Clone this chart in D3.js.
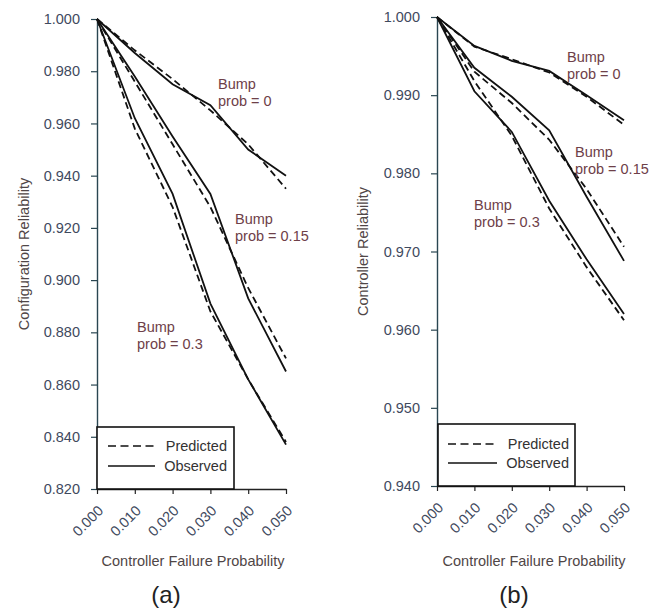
<!DOCTYPE html>
<html>
<head>
<meta charset="utf-8">
<script src="https://cdn.jsdelivr.net/npm/d3@7"></script>
<style>
  html, body { margin: 0; padding: 0; background: #ffffff; }
  svg { display: block; }
  text { font-family: "Liberation Sans", Arial, sans-serif; }
</style>
</head>
<body>
<svg id="chart" width="664" height="614"></svg>
<script>
// ---------------- DATA ----------------
const xValues = [0.00, 0.01, 0.02, 0.03, 0.04, 0.05];
const xTickLabels = ["0.000", "0.010", "0.020", "0.030", "0.040", "0.050"];

// Panel (a): Configuration Reliability
const aYTicks = [0.82, 0.84, 0.86, 0.88, 0.90, 0.92, 0.94, 0.96, 0.98, 1.00];
const aObs0    = [1.000, 0.987, 0.975, 0.967, 0.950, 0.940];
const aPred0   = [1.000, 0.988, 0.977, 0.965, 0.952, 0.935];
const aObs15   = [1.000, 0.978, 0.955, 0.933, 0.893, 0.865];
const aPred15  = [1.000, 0.976, 0.952, 0.928, 0.897, 0.870];
const aObs3    = [1.000, 0.962, 0.933, 0.891, 0.862, 0.837];
const aPred3   = [1.000, 0.958, 0.928, 0.888, 0.862, 0.838];

// Panel (b): Controller Reliability
const bYTicks = [0.94, 0.95, 0.96, 0.97, 0.98, 0.99, 1.00];
const bObs0    = [1.000, 0.9963, 0.9944, 0.9931, 0.9900, 0.9868];
const bPred0   = [1.000, 0.9962, 0.9946, 0.9929, 0.9898, 0.9862];
const bObs15   = [1.000, 0.9935, 0.9898, 0.9855, 0.9770, 0.9688];
const bPred15  = [1.000, 0.9930, 0.9890, 0.9843, 0.9780, 0.9706];
const bObs3    = [1.000, 0.9905, 0.9853, 0.9765, 0.9690, 0.9620];
const bPred3   = [1.000, 0.9918, 0.9848, 0.9755, 0.9680, 0.9612];

const legendLabels = ["Predicted", "Observed"];
const yTitles = ["Configuration Reliability", "Controller Reliability"];
const xTitle = "Controller Failure Probability";
const panelLabels = ["(a)", "(b)"];
const bumpLabels = ["prob = 0", "prob = 0.15", "prob = 0.3"];

// ---------------- DRAW ----------------
const svg = d3.select("#chart");
const FS = 14.5;
const axisColor = "#2a4652";
const tickColor = "#3f4a5e";
const titleColor = "#4f4646";
const annColor = "#6e4048";

const panels = [
  {
    x0: 97, x1: 286, yTop: 19, yBot: 489, yDomain: [0.82, 1.00], yTicks: aYTicks,
    series: [[aObs0, aPred0], [aObs15, aPred15], [aObs3, aPred3]],
    ann: [[218, 89], [235, 224], [137, 332]],
    legend: { x: 97, y: 427, w: 137, h: 62, lineX0: 108, lineX1: 155, textEnd: 227, y1: 446, y2: 466 },
    yTitleX: 29, xTitleX: 193, panelLabelX: 166, yTitle: yTitles[0], label: panelLabels[0]
  },
  {
    x0: 437, x1: 624, yTop: 17, yBot: 486, yDomain: [0.94, 1.00], yTicks: bYTicks,
    series: [[bObs0, bPred0], [bObs15, bPred15], [bObs3, bPred3]],
    ann: [[567, 62], [575, 157], [474, 210]],
    legend: { x: 438, y: 424, w: 137, h: 62, lineX0: 448, lineX1: 497, textEnd: 569, y1: 444, y2: 463 },
    yTitleX: 368, xTitleX: 534, panelLabelX: 514, yTitle: yTitles[1], label: panelLabels[1]
  }
];

panels.forEach(p => {
  const x = d3.scaleLinear().domain([0, 0.05]).range([p.x0, p.x1]);
  const y = d3.scaleLinear().domain(p.yDomain).range([p.yBot, p.yTop]);

  // Y axis
  const yAxis = d3.axisLeft(y).tickValues(p.yTicks).tickFormat(d3.format(".3f"))
    .tickSize(6).tickSizeOuter(0).tickPadding(11);
  const gy = svg.append("g").attr("transform", `translate(${p.x0},0)`).call(yAxis);
  gy.select(".domain").attr("stroke", axisColor).attr("stroke-width", 1.4);
  gy.selectAll(".tick line").attr("stroke", axisColor).attr("stroke-width", 1.2);
  gy.selectAll(".tick text").attr("fill", tickColor).style("font-size", FS + "px")
    .style("font-family", "'Liberation Sans', Arial, sans-serif");

  // X axis
  const xAxis = d3.axisBottom(x).tickValues(xValues).tickFormat((d, i) => xTickLabels[i])
    .tickSize(5).tickSizeOuter(0);
  const gx = svg.append("g").attr("transform", `translate(0,${p.yBot})`).call(xAxis);
  gx.select(".domain").attr("stroke", "#222").attr("stroke-width", 1.4);
  gx.selectAll(".tick line").attr("stroke", "#222").attr("stroke-width", 1.2);
  gx.selectAll(".tick text")
    .attr("fill", tickColor).style("font-size", FS + "px")
    .style("font-family", "'Liberation Sans', Arial, sans-serif")
    .attr("text-anchor", "end")
    .attr("y", 0).attr("dy", "0.35em")
    .attr("transform", "translate(3,19) rotate(-45)");

  // Lines
  const line = d3.line().x((d, i) => x(xValues[i])).y(d => y(d));
  p.series.forEach(([obs, pred]) => {
    svg.append("path").datum(pred).attr("d", line)
      .attr("fill", "none").attr("stroke", "#111").attr("stroke-width", 1.8)
      .attr("stroke-dasharray", "7,4");
    svg.append("path").datum(obs).attr("d", line)
      .attr("fill", "none").attr("stroke", "#111").attr("stroke-width", 1.8);
  });

  // Annotations
  p.ann.forEach((a, i) => {
    const t = svg.append("text").attr("x", a[0]).attr("y", a[1])
      .attr("fill", annColor).style("font-size", FS + "px");
    t.append("tspan").attr("x", a[0]).text("Bump");
    t.append("tspan").attr("x", a[0]).attr("dy", 16.5).text(bumpLabels[i]);
  });

  // Legend
  const L = p.legend;
  svg.append("rect").attr("x", L.x).attr("y", L.y).attr("width", L.w).attr("height", L.h)
    .attr("fill", "#ffffff").attr("stroke", "#111").attr("stroke-width", 1.6);
  svg.append("line").attr("x1", L.lineX0).attr("x2", L.lineX1).attr("y1", L.y1).attr("y2", L.y1)
    .attr("stroke", "#111").attr("stroke-width", 1.5).attr("stroke-dasharray", "8,4.5");
  svg.append("line").attr("x1", L.lineX0).attr("x2", L.lineX1).attr("y1", L.y2).attr("y2", L.y2)
    .attr("stroke", "#111").attr("stroke-width", 1.5);
  svg.append("text").attr("x", L.textEnd).attr("y", L.y1).attr("dy", "0.35em")
    .attr("text-anchor", "end").attr("fill", "#333").style("font-size", FS + "px").text(legendLabels[0]);
  svg.append("text").attr("x", L.textEnd).attr("y", L.y2).attr("dy", "0.35em")
    .attr("text-anchor", "end").attr("fill", "#333").style("font-size", FS + "px").text(legendLabels[1]);

  // Axis titles
  svg.append("text").attr("transform", `translate(${p.yTitleX},${(p.yTop + p.yBot) / 2}) rotate(-90)`)
    .attr("text-anchor", "middle").attr("fill", titleColor).style("font-size", FS + "px").text(p.yTitle);
  svg.append("text").attr("x", p.xTitleX).attr("y", 566)
    .attr("text-anchor", "middle").attr("fill", titleColor).style("font-size", FS + "px").text(xTitle);

  // Panel label
  svg.append("text").attr("x", p.panelLabelX).attr("y", 603)
    .attr("text-anchor", "middle").attr("fill", "#222").style("font-size", "24px").text(p.label);
});
</script>
</body>
</html>
